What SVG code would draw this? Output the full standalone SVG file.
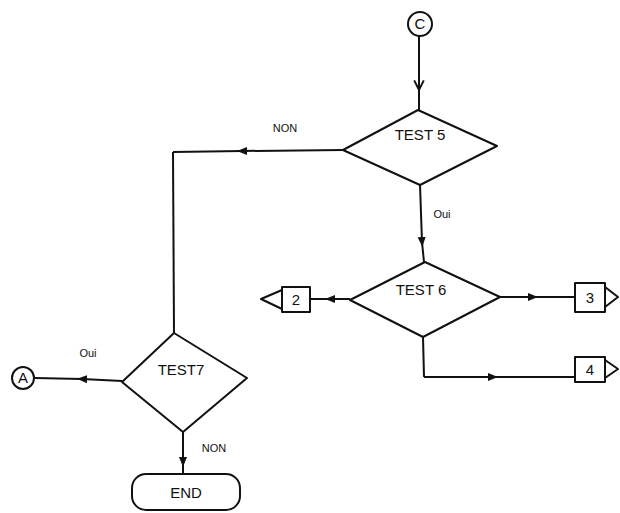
<svg xmlns="http://www.w3.org/2000/svg" width="620" height="513" viewBox="0 0 620 513">
<defs>
<style>
.s{fill:#fff;stroke:#111;stroke-width:2;stroke-linejoin:round}
.c{fill:none;stroke:#111;stroke-width:2}
.t{font-family:"Liberation Sans",Arial,sans-serif;fill:#111;text-anchor:middle}
.big{font-size:15px}
.lab{font-size:11px}
</style>
<marker id="af" viewBox="0 0 10 10" refX="5" refY="5" markerWidth="10" markerHeight="10" markerUnits="userSpaceOnUse" orient="auto">
<path d="M0,1 L10,5 L0,9 z" fill="#111"/>
</marker>
<marker id="av" viewBox="0 0 10 10" refX="9" refY="5" markerWidth="12" markerHeight="12" markerUnits="userSpaceOnUse" orient="auto">
<path d="M1,1 L9,5 L1,9" fill="none" stroke="#111" stroke-width="1.6"/>
</marker>
</defs>
<rect width="620" height="513" fill="#fff"/>
<g id="connectors">
<path class="c" d="M419,36 L419,90 L419,110" marker-mid="url(#av)"/>
<path class="c" d="M343,150 L242,151 L173,152" marker-mid="url(#af)"/>
<path class="c" d="M173,152 L174,333"/>
<path class="c" d="M420,185 L422,242 L424,262" marker-mid="url(#af)"/>
<path class="c" d="M350,299 L330,299 L310,299" marker-mid="url(#af)"/>
<path class="c" d="M500,297 L533,297 L575,297" marker-mid="url(#af)"/>
<path class="c" d="M423,337 L424,377"/>
<path class="c" d="M424,377 L493,377 L575,377" marker-mid="url(#af)"/>
<path class="c" d="M122,381 L82,379 L35,378" marker-mid="url(#af)"/>
<path class="c" d="M183,432 L183,462 L183,473" marker-mid="url(#af)"/>
</g>
<g id="nodeC">
<circle class="s" cx="420" cy="24" r="12"/>
<text class="t big" x="420" y="29">C</text>
</g>
<g id="test5">
<polygon class="s" points="418,110 497,146 420,185 343,150"/>
<text class="t big" x="420" y="140">TEST 5</text>
</g>
<g id="test6">
<polygon class="s" points="425,262 500,297 423,337 350,300"/>
<text class="t big" x="421" y="295">TEST 6</text>
</g>
<g id="out2">
<rect class="s" x="282" y="287" width="28" height="25"/>
<polygon class="s" points="282,290 261,299 282,309"/>
<text class="t big" x="296" y="305">2</text>
</g>
<g id="out3">
<rect class="s" x="575" y="283" width="30" height="29"/>
<polygon class="s" points="605,287 618,297 605,307"/>
<text class="t big" x="590" y="303">3</text>
</g>
<g id="out4">
<rect class="s" x="575" y="357" width="30" height="25"/>
<polygon class="s" points="605,360 618,369 605,378"/>
<text class="t big" x="590" y="375">4</text>
</g>
<g id="test7">
<polygon class="s" points="174,333 247,378 183,432 122,382"/>
<text class="t big" x="181" y="375">TEST7</text>
</g>
<g id="nodeA">
<circle class="s" cx="23" cy="378" r="11"/>
<text class="t big" x="23" y="383">A</text>
</g>
<g id="end">
<rect class="s" x="132" y="474" width="108" height="36" rx="14" ry="14"/>
<text class="t big" x="186" y="498">END</text>
</g>
<g id="labels">
<text class="t lab" x="285" y="132">NON</text>
<text class="t lab" x="442" y="218">Oui</text>
<text class="t lab" x="88" y="357">Oui</text>
<text class="t lab" x="214" y="452">NON</text>
</g>
</svg>
